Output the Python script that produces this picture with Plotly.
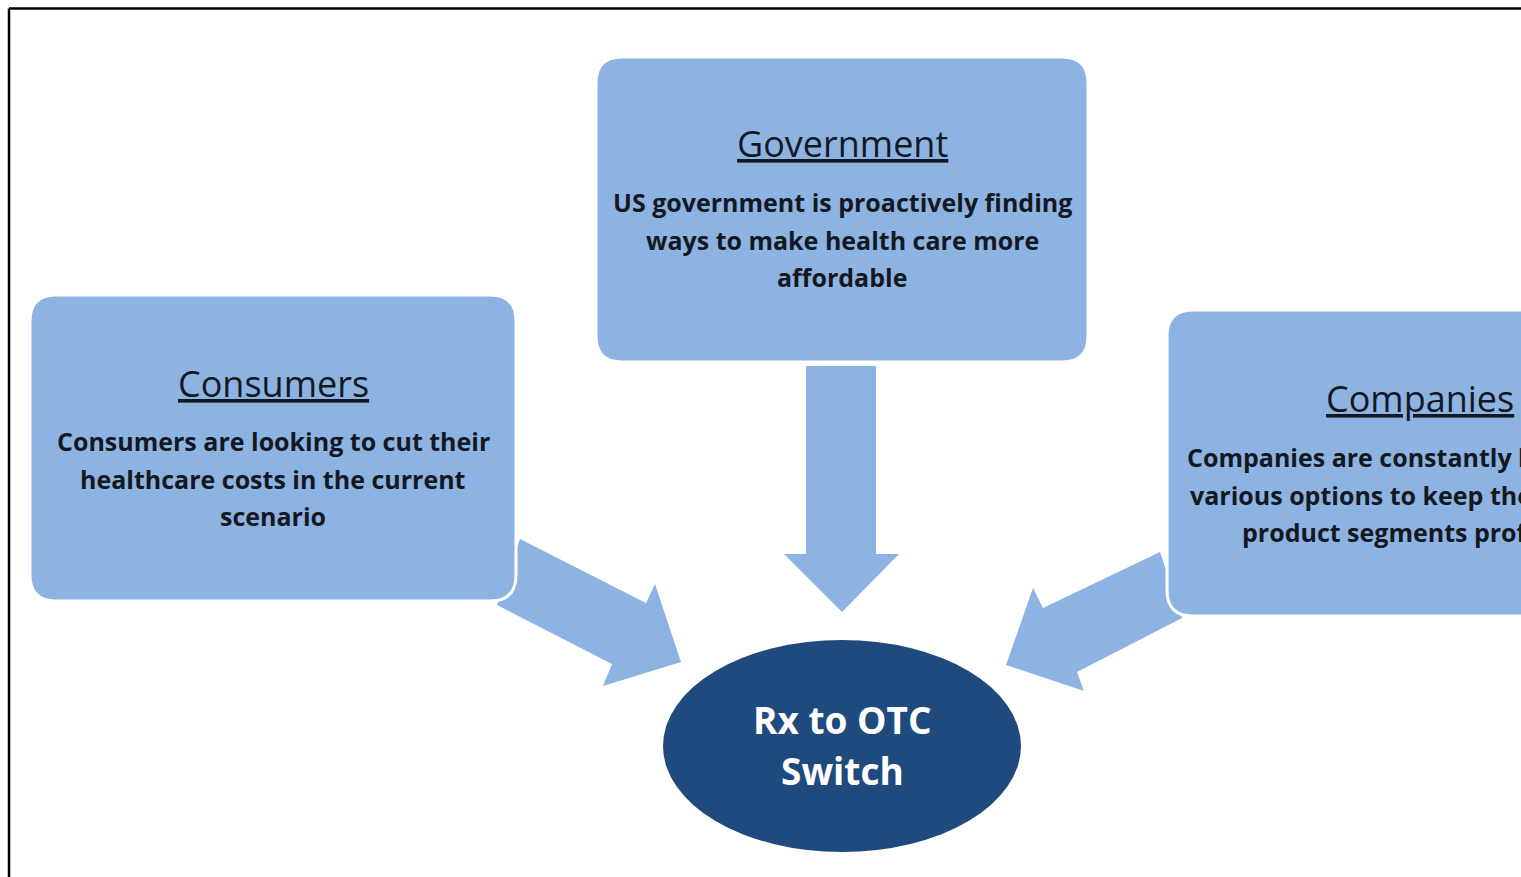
import plotly.graph_objects as go

# ---- content ----
titles = ["Consumers", "Government", "Companies"]
bodies = [
    ["Consumers are looking to cut their", "healthcare costs in the current", "scenario"],
    ["US government is proactively finding", "ways to make health care more", "affordable"],
    ["Companies are constantly looking for", "various options to keep their mature", "product segments profitable"],
]
center_lines = ["Rx to OTC", "Switch"]

# ---- geometry (page pixel space) ----
W, H = 1521, 877
boxes = [  # x0, y0, x1, y1
    (30, 295, 516, 601),
    (596, 57, 1088, 362),
    (1167, 310, 1677, 616),
]
text_cx = [273, 842, 1420]
title_y = [383, 143, 398]
body_y0 = [441, 202, 457]
line_gap = 37.5
ell = (842, 746, 179, 106)  # cx, cy, rx, ry

arrows = [
    [(520, 539), (646, 603), (655, 584), (681, 662), (603, 686), (612, 664), (497, 605)],
    [(806, 366), (876, 366), (876, 554), (899, 554), (842, 612), (784, 554), (806, 554)],
    [(1160, 552), (1043, 608), (1033, 588), (1006, 665), (1084, 691), (1077, 672), (1182, 618)],
]

BOX = "#8DB3E2"
NAVY = "#1F4A7E"
TXT = "#141821"

def rrect(x0, y0, x1, y1, r):
    return (f"M{x0+r},{y0} L{x1-r},{y0} Q{x1},{y0} {x1},{y0+r} L{x1},{y1-r} Q{x1},{y1} {x1-r},{y1} "
            f"L{x0+r},{y1} Q{x0},{y1} {x0},{y1-r} L{x0},{y0+r} Q{x0},{y0} {x0+r},{y0} Z")

fig = go.Figure()
shapes = []
for pts in arrows:
    p = "M" + " L".join(f"{x},{y}" for x, y in pts) + " Z"
    shapes.append(dict(type="path", path=p, xref="x", yref="y", fillcolor=BOX,
                       line=dict(width=0), layer="above"))
for (x0, y0, x1, y1) in boxes:
    shapes.append(dict(type="path", path=rrect(x0, y0, x1, y1, 26), xref="x", yref="y",
                       fillcolor=BOX, line=dict(color="white", width=3), layer="above"))
cx, cy, rx, ry = ell
shapes.append(dict(type="circle", x0=cx-rx, x1=cx+rx, y0=cy-ry, y1=cy+ry, xref="x", yref="y",
                   fillcolor=NAVY, line=dict(width=0), layer="above"))
# frame lines
shapes.append(dict(type="line", x0=9, x1=W + 20, y0=8.5, y1=8.5, xref="x", yref="y",
                   line=dict(color="black", width=2.5), layer="above"))
shapes.append(dict(type="line", x0=9, x1=9, y0=8.5, y1=H + 20, xref="x", yref="y",
                   line=dict(color="black", width=2.5), layer="above"))

ann = []
for i, t in enumerate(titles):
    ann.append(dict(x=text_cx[i], y=title_y[i], text=t, showarrow=False, xref="x", yref="y",
                    xanchor="center", yanchor="middle",
                    font=dict(family="Open Sans", size=36, color=TXT, lineposition="under")))
    for j, line in enumerate(bodies[i]):
        ann.append(dict(x=text_cx[i], y=body_y0[i] + j*line_gap, text=f"<b>{line}</b>",
                        showarrow=False, xref="x", yref="y", xanchor="center", yanchor="middle",
                        font=dict(family="Open Sans", size=25, color=TXT)))
for j, line in enumerate(center_lines):
    ann.append(dict(x=cx, y=719 + j*51, text=f"<b>{line}</b>", showarrow=False, xref="x", yref="y",
                    xanchor="center", yanchor="middle",
                    font=dict(family="Open Sans", size=37, color="white")))

fig.update_layout(
    width=W, height=H, margin=dict(l=0, r=0, t=0, b=0),
    paper_bgcolor="white", plot_bgcolor="white",
    xaxis=dict(range=[0, W], visible=False, fixedrange=True),
    yaxis=dict(range=[H, 0], visible=False, fixedrange=True),
    shapes=shapes, annotations=ann, showlegend=False,
)
fig.write_html("out.html", config={"displayModeBar": False},
               post_script="document.body.style.margin='0';document.body.style.overflow='hidden';")
